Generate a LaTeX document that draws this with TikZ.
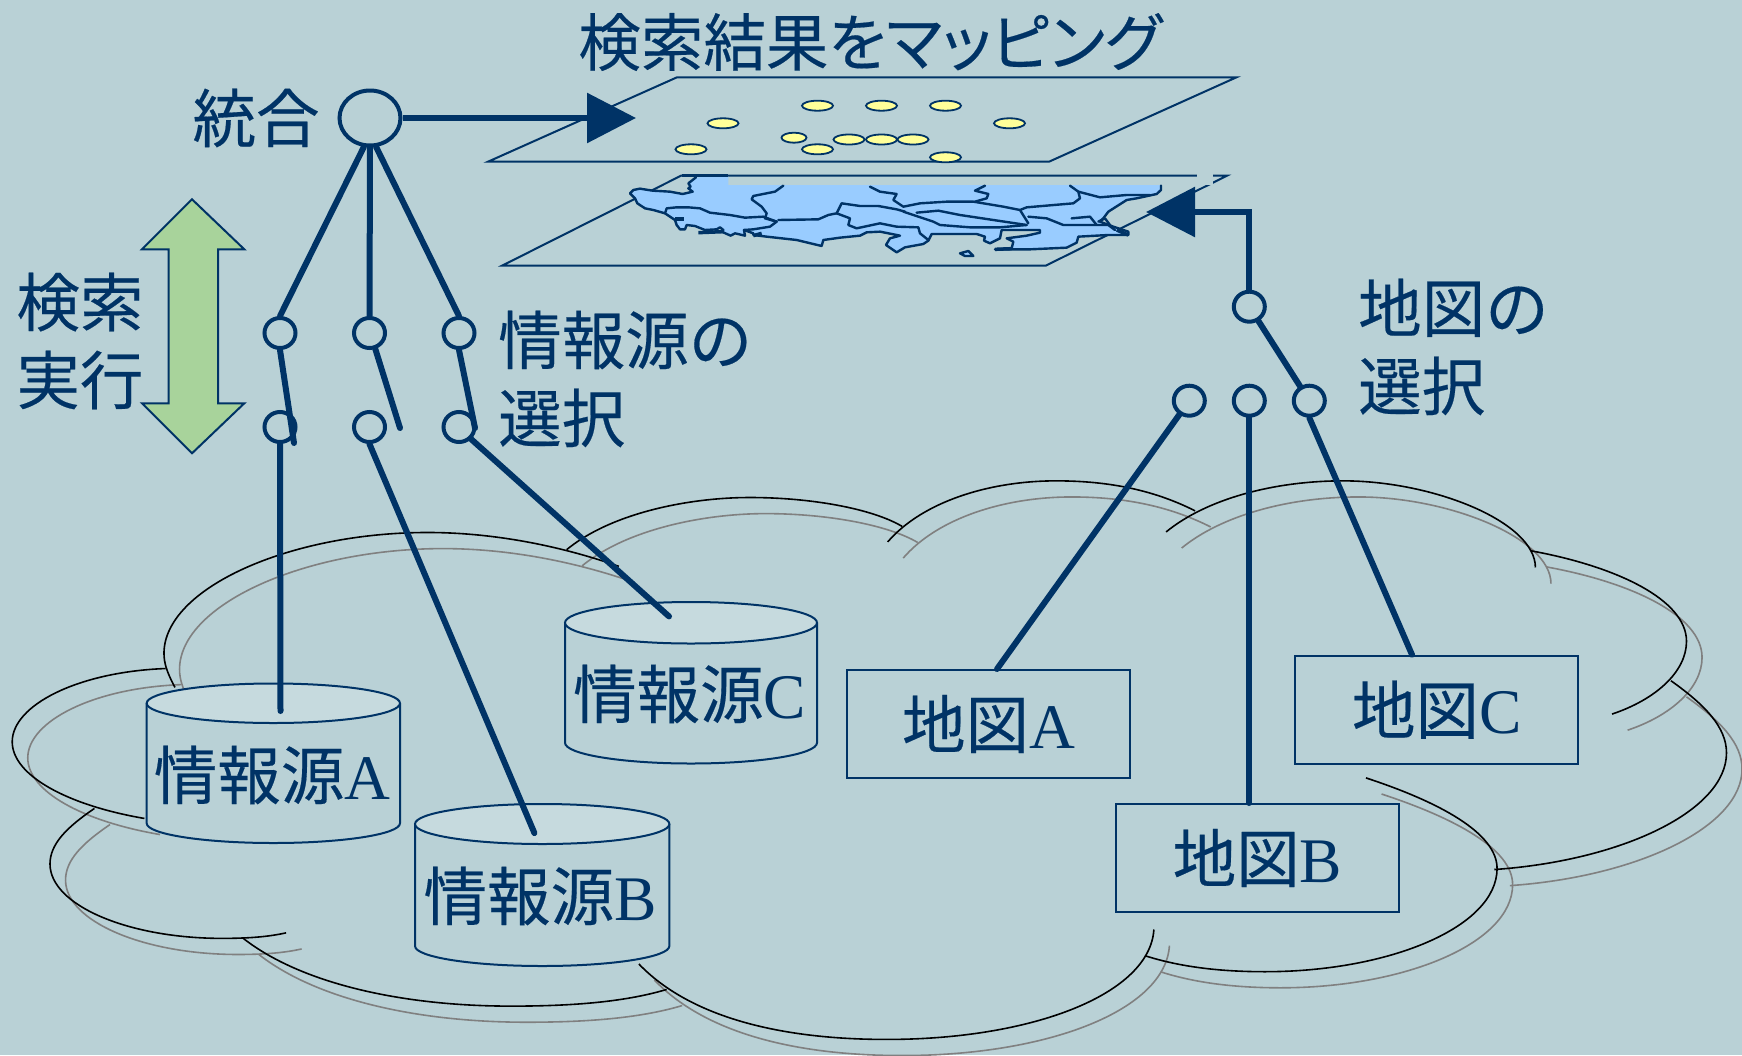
\documentclass[tikz,border=0pt]{standalone}
\usepackage{fontspec}
\usetikzlibrary{shapes.geometric,arrows.meta,calc}
\setmainfont{Liberation Serif}
\newfontfamily\cjk[FakeBold=0.3]{Noto Sans CJK JP}
\newfontfamily\cjkp[RawFeature=+palt,FakeBold=0.3]{Noto Sans CJK JP}
\definecolor{bgc}{HTML}{B9D1D6}
\definecolor{ink}{HTML}{003366}
\definecolor{lid}{HTML}{C6DADE}
\definecolor{grn}{HTML}{A8D39B}
\definecolor{mapc}{HTML}{99CCFF}
\definecolor{dot}{HTML}{FFFF99}
\definecolor{cloudgray}{HTML}{808080}
\tikzset{
  label/.style={text=ink,inner sep=0pt,font=\fontsize{63.5}{78}\selectfont},
  conn/.style={draw=ink,line width=6pt,line cap=round},
  thinl/.style={draw=ink,line width=2pt},
  sw/.style={ellipse,draw=ink,line width=4pt,inner sep=0pt,minimum width=31pt,minimum height=30pt},
  mapbox/.style={rectangle,draw=ink,line width=2pt,inner sep=0pt,minimum width=283pt,minimum height=108pt,text=ink,font=\fontsize{63.5}{78}\selectfont},
  pin/.style={ellipse,draw=ink,line width=1.8pt,fill=dot,inner sep=0pt,minimum width=31pt,minimum height=10pt},
  maplin/.style={draw=ink,line width=2.4pt,line join=round,line cap=round},
  tiphead/.style={-{Triangle[length=49pt,width=49pt]}}
}
\newcommand{\cloudarcs}[1]{%
\draw[#1,line width=1.6pt] (157.5,619) .. controls (150,605) and (147.6,597) .. (147.6,588) .. controls (148,530) and (260,479.5) .. (385,479.5) .. controls (440,479.5) and (500,490) .. (557,510);
\draw[#1,line width=1.6pt] (510,495) .. controls (550,462) and (620,448) .. (675,448) .. controls (730,448) and (785,458) .. (812,474);
\draw[#1,line width=1.6pt] (799,488) .. controls (830,452) and (890,433) .. (950.6,433) .. controls (1000,433) and (1040,442) .. (1075.7,460);
\draw[#1,line width=1.6pt] (1049.6,479) .. controls (1085,450) and (1145,433) .. (1209,433) .. controls (1290,433) and (1382,470) .. (1382,511);
\draw[#1,line width=1.6pt] (1378,496) .. controls (1455,510) and (1518,540) .. (1518,577.5) .. controls (1518,605) and (1490,630) .. (1451,643);
\draw[#1,line width=1.6pt] (1504,613) .. controls (1535,635) and (1554,655) .. (1554,678) .. controls (1554,730) and (1460,775) .. (1345,783);
\draw[#1,line width=1.6pt] (1229.5,700.5) .. controls (1295,722) and (1347.5,750) .. (1347.5,782) .. controls (1347.5,835) and (1250,875) .. (1138.6,875) .. controls (1095,875) and (1060,870) .. (1030.6,860.6);
\draw[#1,line width=1.6pt] (1038.6,837) .. controls (1035,895) and (930,936) .. (798,936) .. controls (700,936) and (620,915) .. (575,868);
\draw[#1,line width=1.6pt] (600,891) .. controls (560,903) and (510,906) .. (460,906) .. controls (360,906) and (270,885) .. (219,845);
\draw[#1,line width=1.6pt] (257.5,840) .. controls (240,844) and (220,845) .. (200,845) .. controls (115,845) and (45,815) .. (45,778) .. controls (45,760) and (60,745) .. (85,728);
\draw[#1,line width=1.6pt] (130,737) .. controls (60,725) and (11,698) .. (11,668) .. controls (11,635) and (70,605) .. (149,602);
}
\newcommand{\dbcyl}[8]{% name xl xr ytop ylidbottom ybottom textx,y text
  \pgfmathsetmacro{\rx}{(#3-#2)/2}
  \pgfmathsetmacro{\ry}{(#5-#4)/2}
  \pgfmathsetmacro{\cx}{(#3+#2)/2}
  \pgfmathsetmacro{\cy}{(#5+#4)/2}
  \pgfmathsetmacro{\by}{#6-\ry}
  \path[fill=bgc,thinl] (#2,\cy) -- (#2,\by) arc[start angle=180,end angle=360,x radius=\rx pt,y radius=\ry pt] -- (#3,\cy);
  \path[fill=lid,thinl] (\cx,\cy) ellipse[x radius=\rx pt,y radius=\ry pt];
  \node[label] (#1) at (#7) {#8};
}
\begin{document}
\begin{tikzpicture}[x=1pt,y=-1pt]
\useasboundingbox (0,0) rectangle (1742,1055);
\fill[bgc] (0,0) rectangle (1742,1055);
% clouds
\begin{scope}[x=1.111pt,y=-1.1105pt]
\begin{scope}[shift={(14,14.5)}]\cloudarcs{cloudgray}\end{scope}
\cloudarcs{black}
\end{scope}
% planes
\path[thinl] (488,161.7) -- (677,77.3) -- (1236.5,77.3) -- (1049,161.7) -- cycle;
\path[thinl] (502,265.7) -- (1045.7,265.7) -- (1227,175.7) -- (681,175.7) -- cycle;
\fill[bgc] (1197,170) rectangle (1213,185);
% pins
\foreach \n/\px/\py in {p1/817.5/105.7,p2/881.5/105.7,p3/945.5/105.7,p4/723/123.3,p5/1009.5/123.3,p7/849/139.5,p8/881.5/139.5,p9/913/139.5,p10/691/149.3,p11/817.5/149.3,p12/945.5/157.3}
  \node[pin] (\n) at (\px,\py) {};
\node[pin,minimum width=25pt] (p6) at (794,137.7) {};
% map
\begin{scope}[x=0.33333pt,y=-0.33333pt,shift={(1860,510)}]
\path[fill=mapc,draw=none] (228,22) -- (325,20) -- (325,45) -- (1623,45) -- (1623,60) -- (1610,72) -- (1550,85) -- (1520,90) -- (1465,125) -- (1450,145) -- (1440,155) -- (1480,170) -- (1525,185) -- (1525,195) -- (1465,195) -- (1375,200) -- (1370,218) -- (1340,233) -- (1230,238) -- (1125,238) -- (1175,235) -- (1180,215) -- (1160,205) -- (1220,197) -- (1260,188) -- (1260,180) -- (1145,180) -- (1140,205) -- (1110,220) -- (1092,212) -- (1095,200) -- (1070,192) -- (935,192) -- (925,212) -- (910,222) -- (855,232) -- (830,247) -- (798,225) -- (810,205) -- (840,197) -- (780,185) -- (740,187) -- (720,197) -- (660,203) -- (610,210) -- (605,228) -- (530,210) -- (440,200) -- (400,195) -- (400,190) -- (372,180) -- (375,197) -- (345,190) -- (332,197) -- (305,185) -- (310,180) -- (300,172) -- (290,178) -- (255,180) -- (225,168) -- (200,165) -- (195,178) -- (180,178) -- (170,165) -- (165,150) -- (135,130) -- (100,120) -- (75,115) -- (52,100) -- (45,85) -- (30,70) -- (40,60) -- (60,56) -- (98,62) -- (150,65) -- (188,72) -- (218,65) -- (205,55) -- (212,50) -- (205,40) -- cycle;
\path[maplin] (228,22) -- (205,40) -- (212,50) -- (205,55) -- (218,65) -- (188,72) -- (150,65) -- (98,62) -- (60,56) -- (40,60) -- (30,70) -- (45,85) -- (52,100) -- (75,115) -- (100,120) -- (135,130) -- (165,150) -- (170,165) -- (180,178) -- (195,178) -- (200,165) -- (225,168) -- (255,180) -- (290,178) -- (300,172) -- (310,180) -- (305,185) -- (332,197) -- (345,190) -- (375,197) -- (372,180) -- (400,190) -- (400,195) -- (440,200) -- (530,210) -- (605,228) -- (610,210) -- (660,203) -- (720,197) -- (740,187) -- (780,185) -- (840,197) -- (810,205) -- (798,225) -- (830,247) -- (855,232) -- (910,222) -- (925,212) -- (935,192) -- (1070,192) -- (1095,200) -- (1092,212) -- (1110,220) -- (1140,205) -- (1145,180) -- (1260,180) -- (1260,188) -- (1220,197) -- (1160,205) -- (1180,215) -- (1175,235) -- (1125,238) -- (1230,238) -- (1340,233) -- (1370,218) -- (1375,200) -- (1465,195) -- (1525,195) -- (1525,185) -- (1480,170) -- (1440,155) -- (1450,145) -- (1465,125) -- (1520,90) -- (1550,85) -- (1610,72) -- (1623,60) -- (1623,47);
\path[maplin] (135,130) -- (140,115) -- (170,112) -- (205,112) -- (240,115) -- (270,128) -- (330,135) -- (375,143) -- (430,140) -- (470,155);
\path[maplin] (490,47) -- (465,65) -- (430,72) -- (400,78) -- (395,88) -- (425,110) -- (440,130) -- (435,145) -- (470,155);
\path[maplin] (470,155) -- (450,170) -- (400,178) -- (372,180);
\path[maplin] (475,150) -- (595,148) -- (625,135) -- (650,130) -- (665,100) -- (720,108) -- (775,108) -- (830,118) -- (855,125);
\path[maplin] (650,130) -- (690,145) -- (685,165) -- (710,175) -- (780,160) -- (830,170) -- (895,172) -- (900,190) -- (925,210);
\path[maplin] (750,50) -- (780,65) -- (830,72) -- (820,90) -- (850,110) -- (900,100) -- (980,95) -- (1060,95) -- (1150,110) -- (1200,120) -- (1225,160);
\path[maplin] (1095,47) -- (1065,62) -- (1105,72) -- (1100,85) -- (1065,95);
\path[maplin] (890,128) -- (955,122) -- (1020,135) -- (1120,150) -- (1220,165);
\path[maplin] (850,125) -- (940,155) -- (960,165) -- (1050,172) -- (1140,172) -- (1220,165);
\path[maplin] (1350,47) -- (1375,65) -- (1380,85) -- (1360,100) -- (1220,112) -- (1200,120);
\path[maplin] (1375,65) -- (1440,82) -- (1520,75) -- (1590,75);
\path[maplin] (1225,140) -- (1280,145) -- (1330,165) -- (1465,165) -- (1485,180);
\path[maplin] (1355,145) -- (1410,140) -- (1430,165);
\path[maplin] (1435,155) -- (1455,145) -- (1470,165) -- (1480,175);
\path[maplin,fill=mapc] (1020,250) -- (1045,243) -- (1060,258) -- (1035,258) -- cycle;
\path[draw=ink,line width=3.5pt] (235,188) -- (310,185);
\path[draw=ink,line width=3.5pt] (165,147) -- (193,147);
\path[draw=ink,line width=3.5pt] (400,197) -- (425,190);
\path[draw=ink,line width=3.5pt] (1125,238) -- (1175,236);
\path[draw=ink,line width=3.5pt] (1490,180) -- (1525,195);
\path[draw=ink,line width=3.5pt] (185,17) -- (325,17);
\end{scope}
% clouds' contents
\dbcyl{srcA}{146.7}{400}{683.5}{723}{843}{272,775}{{\cjk 情報源}A}
\dbcyl{srcB}{415}{669.4}{804}{844}{966}{540,896}{{\cjk 情報源}B}
\dbcyl{srcC}{565}{817}{602}{643.5}{763.5}{689.5,694}{{\cjk 情報源}C}
\coordinate (endA) at (280.5,711);
\coordinate (endB) at (534.4,833);
\coordinate (endC) at (669,616.4);
\node[mapbox] (boxA) at (988.5,724) {{\cjk 地図}A};
\node[mapbox] (boxB) at (1257.4,858) {{\cjk 地図}B};
\node[mapbox] (boxC) at (1436.7,709.7) {{\cjk 地図}C};
% green arrow
\path[fill=grn,thinl,line join=miter] (192,199.3) -- (244.3,249.3) -- (218,249.3) -- (218,403.3) -- (244.3,403.3) -- (192,453.3) -- (142,403.3) -- (168.7,403.3) -- (168.7,249.3) -- (142,249.3) -- cycle;
% nodes
\node[sw,minimum width=61pt,minimum height=55pt] (top) at (370,118) {};
\node[sw] (n1) at (280,333) {};
\node[sw] (n2) at (369.5,333) {};
\node[sw] (n3) at (459,333) {};
\node[sw] (m1) at (280,427) {};
\node[sw] (m2) at (369.5,427) {};
\node[sw] (m3) at (459,427) {};
\node[sw] (r0) at (1249.3,306.7) {};
\node[sw] (r1) at (1189.3,400.7) {};
\node[sw] (r2) at (1249.3,400.7) {};
\node[sw] (r3) at (1309.3,400.7) {};
\coordinate (s1) at (294,443);
\coordinate (s2) at (400,428);
\coordinate (s3) at (475,428);
\coordinate (tipL) at (636,118);
\coordinate (tipR) at (1146,212);
% connectors
\draw[conn] (top.258) -- (n1.north);
\draw[conn] (top.south) -- (n2.north);
\draw[conn] (top.282) -- (n3.north);
\draw[conn] (n1.south) -- (s1);
\draw[conn] (n2.-70) -- (s2);
\draw[conn] (n3.south) -- (s3);
\draw[conn] (m1.south) -- (endA);
\draw[conn] (m2.south) -- (endB);
\draw[conn] (m3.-45) -- (endC);
\draw[conn,line cap=butt,tiphead] (top.east) -- (tipL);
\draw[conn,line cap=butt,tiphead] (r0.north) |- (tipR);
\draw[conn] (r0) -- (r3);
\draw[conn] (r1) -- ([xshift=8.5pt]boxA.north);
\draw[conn] (r2.south) -- (r2.south |- boxB.north);
\draw[conn] (r3.south) -- ([xshift=-24.7pt]boxC.north);
% labels
\node[label,font=\cjkp\fontsize{62.5}{78}\selectfont] (title) at (870,42) {検索結果をマッピング};
\node[label,font=\cjk\fontsize{63.5}{78}\selectfont] (merge) at (256,118) {統合};
\node[label,font=\cjk\fontsize{63.5}{78}\selectfont,align=left] (run) at (80,341) {検索\\実行};
\node[label,font=\cjk\fontsize{63.5}{78}\selectfont,align=left,anchor=west] (pick) at (498,379) {情報源の\\選択};
\node[label,font=\cjk\fontsize{63.5}{78}\selectfont,align=left,anchor=west] (pickm) at (1358,347) {地図の\\選択};
\end{tikzpicture}
\end{document}
